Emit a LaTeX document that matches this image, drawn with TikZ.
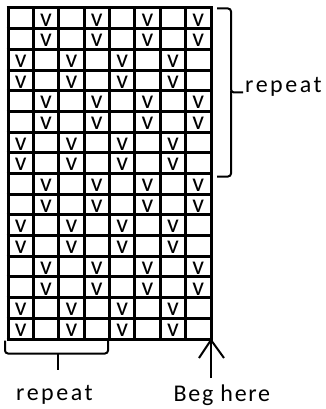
\documentclass[tikz,border=0pt]{standalone}
\usepackage{fontspec}
\newfontfamily\cellfont{Carlito}
\newfontfamily\lblfont[LetterSpace=10.5]{Carlito}
\newfontfamily\begfont[LetterSpace=7]{Carlito}
\begin{document}
\begin{tikzpicture}[x=1pt,y=-1pt,
  gridline/.style={line width=3pt},
  vmark/.style={anchor=base,inner sep=0pt,text height=12pt,text depth=0pt,font=\cellfont\fontsize{26}{26}\selectfont},
  lbl/.style={anchor=base west,inner sep=0pt,font=\lblfont\fontsize{24}{24}\selectfont},
  beglbl/.style={anchor=base west,inner sep=0pt,font=\begfont\fontsize{24}{24}\selectfont},
  bracket/.style={line width=2pt,rounded corners=3pt},
  arrowline/.style={line width=2pt}]
\useasboundingbox (0,0) rectangle (325,409);
% grid
\foreach \c in {0,...,8}{
  \pgfmathsetmacro\gx{8+\c*25.375}
  \draw[gridline] (\gx,6.5) -- (\gx,340.5);
}
\foreach \r in {0,...,16}{
  \pgfmathsetmacro\gy{8+\r*20.69}
  \draw[gridline] (6.5,\gy) -- (212.5,\gy);
}
% v marks
\foreach \r in {1,...,16}{
  \pgfmathtruncatemacro\off{mod(floor((\r-1)/2),2)==0 ? 2 : 1}
  \foreach \k in {0,...,3}{
    \pgfmathsetmacro\cx{8+(\off+2*\k-0.5)*25.375}
    \pgfmathsetmacro\by{8+\r*20.69-2.6}
    \node[vmark] (v-\r-\k) at (\cx,\by) {v};
  }
}
% right brace
\coordinate (rbTop) at (217,8.5);
\coordinate (rbMid) at (243,92.5);
\coordinate (rbBot) at (217,176.5);
\draw[bracket] (rbTop) -- (231,8.5) -- (231,92.5) -- (rbMid);
\draw[bracket] (231,91) -- (231,176.5) -- (rbBot);
\node[lbl] (repR) at (245,92.3) {repeat};
% bottom brace
\coordinate (bbL) at (5,340.5);
\coordinate (bbR) at (108,340.5);
\coordinate (bbTip) at (57.5,370);
\draw[bracket] (bbL) -- (5,353.5) -- (108,353.5) -- (bbR);
\draw[arrowline] (57.5,353.5) -- (bbTip);
\node[lbl] (repB) at (16,400.7) {repeat};
% arrow
\coordinate (tip) at (211,340);
\coordinate (tail) at (211,378);
\coordinate (hl) at (199,358);
\coordinate (hr) at (224,358);
\draw[arrowline] (tail) -- (tip);
\draw[arrowline] (hl) -- (tip) -- (hr);
\node[beglbl] (beg) at (173.5,401) {Beg here};
\end{tikzpicture}
\end{document}
